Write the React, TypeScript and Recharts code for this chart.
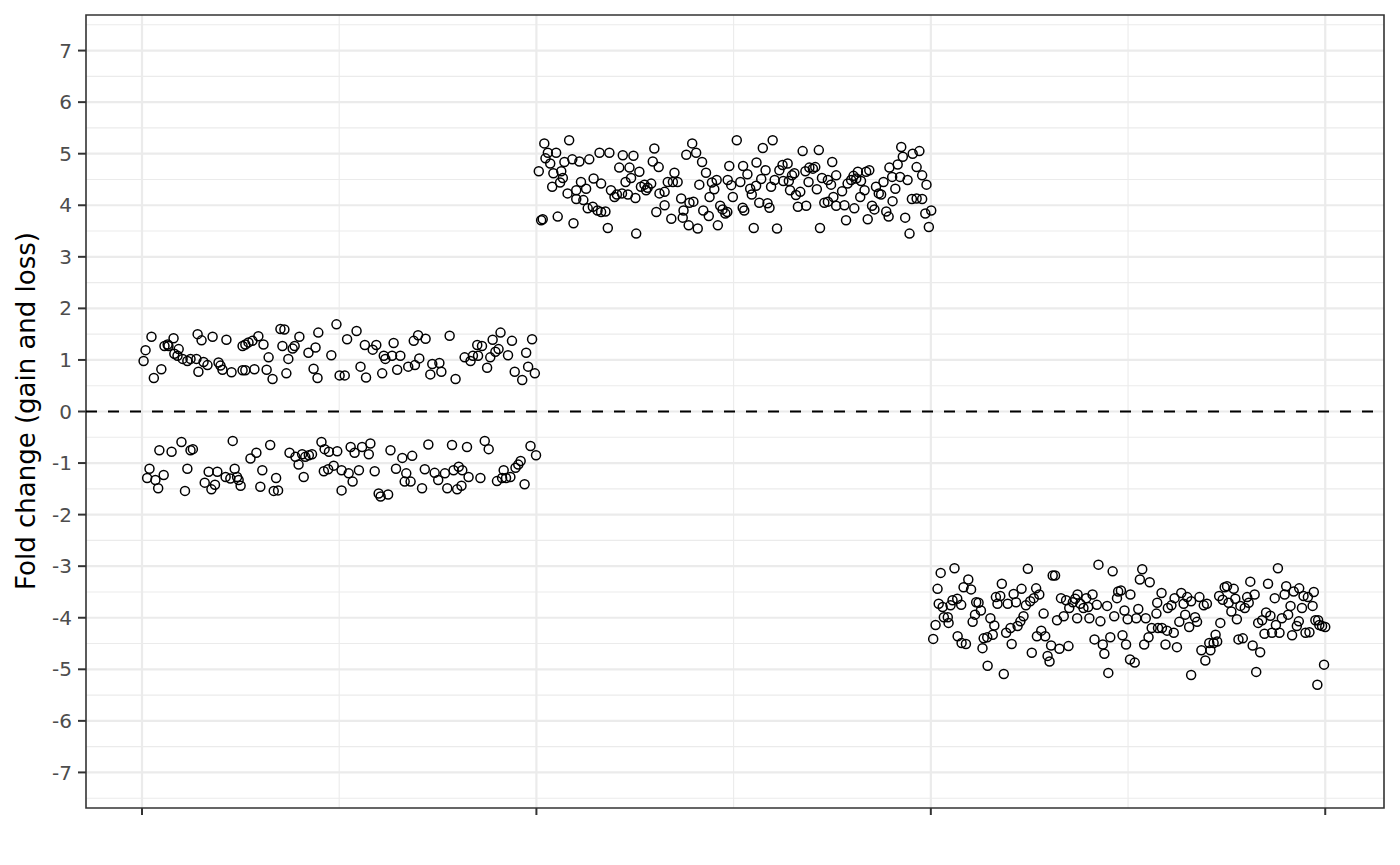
import { ScatterChart, Scatter, XAxis, YAxis, CartesianGrid, ReferenceLine, ReferenceArea } from 'recharts'

// [index, fold change]
const gainA: [number, number][] = [
  [0.9, 1.19], [0.4, 0.98], [2.4, 1.45], [3.0, 0.65], [4.9, 0.82], [5.7, 1.27], [6.5, 1.3], [6.7, 1.27],
  [8.0, 1.42], [8.2, 1.12], [9.3, 1.21], [9.0, 1.08], [10.3, 1.02], [11.5, 0.98], [12.3, 1.02], [13.8, 1.02],
  [14.1, 1.5], [15.1, 1.38], [14.3, 0.77], [15.6, 0.96], [16.6, 0.9], [17.9, 1.45], [19.4, 0.95], [19.9, 0.89],
  [20.4, 0.81], [21.4, 1.39], [22.7, 0.76], [25.5, 1.27], [26.2, 1.3], [27.0, 1.34], [28.0, 1.37], [29.5, 1.46],
  [30.8, 1.3], [25.5, 0.8], [26.2, 0.8], [28.5, 0.82], [31.6, 0.81], [32.1, 1.05], [33.1, 0.63], [35.1, 1.6],
  [36.1, 1.59], [35.6, 1.27], [36.6, 0.74], [37.1, 1.02], [38.2, 1.22], [38.7, 1.27], [39.9, 1.45], [42.2, 1.14],
  [44.0, 1.24], [43.5, 0.83], [44.5, 0.65], [44.7, 1.53], [48.0, 1.09], [49.3, 1.69], [50.1, 0.7], [52.0, 1.4],
  [54.4, 1.56], [51.4, 0.7], [55.4, 0.87], [56.8, 0.66], [56.5, 1.29], [58.5, 1.2], [59.4, 1.29], [61.3, 1.08],
  [61.7, 1.02], [63.4, 1.08], [63.8, 1.33], [65.5, 1.08], [60.9, 0.74], [64.7, 0.81], [67.5, 0.87], [69.2, 0.9],
  [68.9, 1.37], [70.0, 1.48], [71.9, 1.41], [70.3, 1.03], [73.6, 0.92], [73.1, 0.72], [75.4, 0.94], [75.9, 0.77],
  [78.0, 1.47], [79.5, 0.63], [81.8, 1.05], [83.3, 0.98], [83.9, 1.08], [85.0, 1.29], [85.2, 1.08], [86.2, 1.27],
  [87.5, 0.85], [88.3, 1.05], [88.9, 1.39], [89.6, 1.16], [90.4, 1.21], [90.9, 1.53], [92.8, 1.09], [93.8, 1.37],
  [94.5, 0.77], [97.4, 1.14], [96.4, 0.61], [97.9, 0.87], [98.9, 1.4], [99.6, 0.74],
]

const lossA: [number, number][] = [
  [1.9, -1.11], [1.3, -1.29], [3.4, -1.33], [4.1, -1.49], [5.5, -1.23], [4.4, -0.75], [7.5, -0.78], [10.0, -0.59],
  [12.3, -0.75], [12.9, -0.73], [11.5, -1.11], [10.9, -1.54], [15.9, -1.38], [16.9, -1.17], [17.6, -1.51], [18.5, -1.42],
  [19.1, -1.17], [21.2, -1.27], [22.4, -1.3], [23.5, -1.11], [24.1, -1.27], [24.5, -1.33], [25.0, -1.44], [23.0, -0.57],
  [27.5, -0.91], [29.0, -0.8], [32.5, -0.65], [30.5, -1.14], [30.0, -1.46], [34.0, -1.29], [33.4, -1.54], [34.5, -1.53],
  [37.4, -0.8], [38.9, -0.88], [39.7, -1.03], [40.6, -0.83], [41.4, -0.88], [42.3, -0.85], [43.1, -0.83], [41.0, -1.27],
  [45.5, -0.59], [46.3, -0.73], [47.4, -0.78], [49.5, -0.77], [46.1, -1.16], [47.2, -1.12], [48.6, -1.05], [50.6, -1.53],
  [52.9, -0.69], [53.9, -0.8], [55.8, -0.69], [57.5, -0.83], [57.9, -0.62], [50.6, -1.14], [52.4, -1.2], [53.4, -1.36],
  [55.0, -1.14], [59.0, -1.16], [60.0, -1.59], [60.5, -1.65], [62.4, -1.61], [63.0, -0.75], [66.0, -0.9], [68.5, -0.86],
  [64.4, -1.11], [67.0, -1.2], [66.6, -1.36], [68.1, -1.36], [71.0, -1.49], [71.7, -1.12], [72.6, -0.64], [74.2, -1.19],
  [75.1, -1.33], [76.8, -1.2], [77.4, -1.49], [78.6, -0.65], [79.0, -1.14], [80.3, -1.07], [81.2, -1.14], [79.9, -1.51],
  [81.0, -1.44], [82.8, -1.27], [82.4, -0.69], [85.8, -1.29], [86.9, -0.57], [87.9, -0.73], [90.0, -1.35], [91.7, -1.14],
  [91.3, -1.29], [92.3, -1.29], [93.4, -1.27], [94.7, -1.09], [95.4, -1.03], [96.0, -0.96], [97.0, -1.41], [98.5, -0.67],
  [99.9, -0.85],
]

const gainB: [number, number][] = [
  [102.0, 5.2], [108.3, 5.26], [102.9, 5.02], [105.0, 5.02], [102.3, 4.91], [103.5, 4.81], [100.6, 4.66], [104.3, 4.62],
  [106.3, 4.66], [106.7, 4.53], [107.1, 4.84], [109.1, 4.89], [110.9, 4.85], [113.4, 4.89], [116.0, 5.02], [118.5, 5.02],
  [104.0, 4.36], [106.0, 4.44], [107.9, 4.23], [110.1, 4.29], [111.3, 4.45], [112.6, 4.32], [110.1, 4.12], [111.9, 4.1],
  [113.0, 3.94], [114.3, 3.97], [115.5, 3.9], [116.4, 3.87], [117.5, 3.88], [114.5, 4.52], [116.4, 4.42], [118.9, 4.29],
  [119.8, 4.16], [120.4, 4.21], [121.7, 4.23], [123.2, 4.21], [125.1, 4.14], [118.1, 3.56], [125.3, 3.45], [101.2, 3.71],
  [101.6, 3.73], [105.4, 3.78], [109.4, 3.65], [121.0, 4.73], [121.9, 4.97], [124.6, 4.96], [123.6, 4.73], [126.1, 4.65],
  [122.6, 4.45], [124.0, 4.53], [126.5, 4.36], [127.4, 4.4], [128.2, 4.34], [129.1, 4.42], [127.8, 4.29], [129.9, 5.1],
  [129.5, 4.85], [131.0, 4.74], [131.2, 4.23], [132.5, 4.26], [133.3, 4.45], [134.6, 4.45], [135.0, 4.63], [135.8, 4.45],
  [132.5, 4.0], [130.4, 3.87], [134.2, 3.74], [136.7, 4.13], [137.3, 3.9], [138.0, 4.98], [139.5, 5.2], [140.5, 5.02],
  [142.0, 4.84], [143.0, 4.63], [141.3, 4.4], [144.5, 4.44], [145.1, 4.31], [145.7, 4.49], [138.8, 4.05], [139.8, 4.07],
  [143.9, 4.16], [137.1, 3.76], [138.6, 3.61], [140.9, 3.55], [142.3, 3.9], [143.7, 3.79], [146.0, 3.61], [146.6, 3.99],
  [147.2, 3.92], [147.9, 3.84], [148.5, 4.49], [149.4, 4.39], [148.9, 4.76], [149.8, 4.16], [150.8, 5.26], [157.4, 5.11],
  [159.9, 5.26], [167.5, 5.05], [171.6, 5.07], [152.4, 4.76], [153.5, 4.6], [155.8, 4.83], [158.1, 4.68], [157.0, 4.51],
  [151.7, 4.45], [154.2, 4.32], [155.7, 4.38], [154.6, 4.21], [159.5, 4.36], [160.4, 4.49], [161.6, 4.68], [162.4, 4.78],
  [163.7, 4.81], [162.6, 4.47], [164.0, 4.47], [164.8, 4.58], [165.4, 4.62], [164.3, 4.29], [165.8, 4.2], [166.9, 4.26],
  [166.3, 3.97], [168.4, 3.99], [168.2, 4.66], [169.2, 4.73], [170.1, 4.71], [170.7, 4.74], [169.0, 4.45], [171.1, 4.31],
  [172.4, 4.53], [173.9, 4.49], [174.7, 4.4], [176.0, 4.58], [175.0, 4.84], [173.0, 4.05], [173.9, 4.07], [175.3, 4.16],
  [176.0, 3.99], [177.5, 4.27], [178.1, 4.0], [178.9, 4.42], [179.8, 4.49], [180.4, 4.57], [181.1, 4.52], [181.5, 4.65],
  [182.3, 4.47], [182.1, 4.16], [183.2, 4.29], [183.6, 4.65], [184.4, 4.68], [180.6, 3.94], [178.5, 3.71], [184.0, 3.73],
  [185.1, 3.99], [185.7, 3.92], [186.1, 4.36], [186.8, 4.23], [187.4, 4.21], [188.0, 4.45], [188.7, 3.88], [189.3, 3.78],
  [190.3, 4.08], [191.0, 4.32], [189.5, 4.73], [190.2, 4.55], [191.6, 4.79], [192.2, 4.55], [192.9, 4.94], [192.5, 5.13],
  [194.1, 4.49], [195.4, 5.0], [197.1, 5.05], [196.4, 4.74], [197.8, 4.58], [198.9, 4.4], [195.2, 4.12], [196.4, 4.13],
  [197.8, 4.12], [193.5, 3.76], [194.6, 3.45], [198.6, 3.84], [200.1, 3.9], [199.5, 3.58], [155.1, 3.56], [161.0, 3.55],
  [171.9, 3.56], [152.3, 3.95], [152.7, 3.9], [156.5, 4.05], [158.6, 4.04], [159.1, 3.95], [148.4, 3.87],
]

const lossC: [number, number][] = [
  [200.6, -4.41], [201.2, -4.14], [201.7, -3.44], [202.5, -3.13], [202.0, -3.73], [203.3, -3.99], [203.0, -3.79], [204.3, -3.99],
  [204.5, -4.1], [205.0, -3.76], [206.0, -3.04], [205.5, -3.66], [206.7, -3.63], [207.7, -3.75], [206.8, -4.36], [207.8, -4.49],
  [208.9, -4.51], [208.3, -3.41], [209.5, -3.26], [210.2, -3.45], [210.6, -4.08], [211.2, -3.94], [211.5, -3.7], [212.1, -3.71],
  [212.7, -3.86], [213.1, -4.59], [213.4, -4.4], [214.3, -4.38], [215.1, -4.01], [214.4, -4.93], [215.7, -4.33], [216.1, -4.15],
  [216.5, -3.6], [216.9, -3.73], [218.0, -3.34], [217.6, -3.58], [218.5, -5.09], [219.1, -4.29], [219.5, -3.73], [220.2, -4.2],
  [220.5, -4.51], [221.0, -3.54], [221.6, -3.7], [222.0, -4.16], [222.7, -4.07], [223.0, -3.44], [223.5, -3.97], [224.1, -3.76],
  [224.6, -3.05], [225.2, -3.68], [225.6, -4.68], [226.1, -3.62], [226.7, -3.43], [227.5, -3.55], [226.9, -4.36], [228.0, -4.25],
  [228.6, -3.92], [229.0, -4.36], [229.6, -4.74], [230.1, -4.85], [230.5, -4.54], [230.9, -3.18], [231.5, -3.18], [232.0, -4.05],
  [232.6, -4.6], [233.0, -3.62], [233.7, -3.97], [234.3, -3.66], [234.9, -4.55], [235.1, -3.81], [236.0, -3.7], [236.6, -3.63],
  [237.2, -3.55], [237.1, -4.01], [237.9, -3.73], [238.7, -3.81], [239.4, -3.62], [239.9, -3.79], [240.2, -4.01], [241.0, -3.55],
  [241.5, -4.42], [242.1, -3.75], [242.5, -2.97], [243.0, -4.07], [243.6, -4.52], [244.0, -4.7], [244.7, -3.77], [245.0, -5.07],
  [245.5, -4.38], [246.1, -3.1], [246.5, -3.97], [247.2, -3.62], [247.5, -3.49], [248.2, -3.47], [248.6, -4.34], [249.1, -3.86],
  [249.5, -4.52], [249.9, -4.03], [250.5, -4.81], [250.6, -3.55], [251.7, -4.87], [252.6, -3.83], [252.1, -4.01], [253.6, -3.06],
  [253.0, -3.26], [255.5, -3.31], [254.5, -4.01], [254.1, -4.52], [255.2, -4.38], [256.0, -4.2], [257.2, -3.92], [257.4, -3.71],
  [258.5, -3.52], [257.6, -4.2], [258.6, -4.2], [259.5, -4.52], [260.1, -3.81], [259.9, -4.25], [261.0, -3.76], [261.6, -4.29],
  [261.8, -3.62], [262.4, -4.57], [263.0, -4.08], [263.5, -3.52], [264.1, -3.73], [264.5, -3.94], [265.0, -3.6], [265.5, -4.18],
  [266.0, -5.11], [266.0, -3.68], [267.0, -3.99], [267.5, -4.08], [268.1, -3.6], [268.6, -4.63], [269.2, -3.76], [269.6, -4.83],
  [270.0, -3.73], [270.6, -4.49], [270.9, -4.63], [271.7, -4.49], [272.2, -4.33], [272.6, -4.46], [273.4, -4.1], [273.1, -3.58],
  [274.0, -3.65], [274.5, -3.41], [275.1, -3.39], [275.5, -3.71], [276.2, -3.88], [276.8, -3.44], [277.2, -3.63], [277.6, -4.03],
  [278.0, -4.42], [279.1, -4.4], [278.5, -3.77], [279.6, -3.81], [280.2, -3.6], [281.0, -3.3], [280.6, -3.71], [282.1, -3.55],
  [281.6, -4.54], [283.5, -4.67], [282.5, -5.05], [283.0, -4.1], [284.0, -4.05], [284.6, -4.31], [285.0, -3.9], [285.5, -3.34],
  [286.1, -3.96], [286.5, -4.29], [287.2, -3.62], [287.5, -4.14], [288.0, -3.04], [288.4, -4.29], [289.0, -4.01], [289.7, -3.55],
  [290.1, -3.39], [290.6, -3.94], [291.2, -3.77], [291.6, -4.34], [292.0, -3.49], [292.8, -4.16], [293.3, -4.07], [293.4, -3.43],
  [294.1, -3.81], [294.5, -3.58], [295.0, -4.29], [295.6, -3.6], [296.0, -4.28], [296.8, -3.77], [297.1, -3.5], [297.5, -4.05],
  [298.2, -4.05], [298.5, -4.14], [299.2, -4.16], [300.0, -4.18], [298.0, -5.3], [299.7, -4.91],
]

const xTicks = [0, 100, 200, 300]
const xMinor = [50, 150, 250]
const yTicks = [-7, -6, -5, -4, -3, -2, -1, 0, 1, 2, 3, 4, 5, 6, 7]
const yMinor = [-7.5, -6.5, -5.5, -4.5, -3.5, -2.5, -1.5, -0.5, 0.5, 1.5, 2.5, 3.5, 4.5, 5.5, 6.5, 7.5]

const X_DOMAIN: [number, number] = [-14.2, 314.9]
const Y_DOMAIN: [number, number] = [-7.69, 7.69]
const FONT = '"DejaVu Sans", sans-serif'

const toPoints = (arr: [number, number][]) => arr.map(([x, y]) => ({ x, y }))

const Ring = (p: any) => (
  <circle cx={p.cx} cy={p.cy} r={4.5} fill="none" stroke="#000" strokeWidth={1.5} />
)

const YTitle = () => (
  <text
    x={26}
    y={411}
    transform="rotate(-90 26 411)"
    textAnchor="middle"
    dominantBaseline="central"
    fontSize={26}
    fontFamily={FONT}
    fill="#000"
  >
    Fold change (gain and loss)
  </text>
)

export default function App() {
  const series = [gainA, lossA, gainB, lossC]
  return (
    <div style={{ position: 'absolute', left: 0, top: 0, width: 1400, height: 865, background: '#fff' }}>
      <ScatterChart width={1400} height={865} margin={{ top: 15, right: 16, bottom: 0, left: 0 }}>
        <CartesianGrid
          stroke="#EBEBEB"
          strokeWidth={1.1}
          horizontalValues={yMinor}
          verticalValues={xMinor}
        />
        <CartesianGrid
          stroke="#EBEBEB"
          strokeWidth={2.2}
          horizontalValues={yTicks}
          verticalValues={xTicks}
        />
        <XAxis
          type="number"
          dataKey="x"
          domain={X_DOMAIN}
          ticks={xTicks}
          allowDataOverflow
          height={57}
          tickSize={7}
          axisLine={false}
          tickLine={{ stroke: '#333333', strokeWidth: 2 }}
          tickFormatter={() => ''}
        />
        <YAxis
          type="number"
          dataKey="y"
          domain={Y_DOMAIN}
          ticks={yTicks}
          allowDataOverflow
          width={86}
          tickSize={8}
          tickMargin={6}
          axisLine={false}
          tickLine={{ stroke: '#333333', strokeWidth: 2 }}
          tick={{ fill: '#4D4D4D', fontSize: 20, fontFamily: FONT }}
          label={<YTitle />}
        />
        <ReferenceLine y={0} stroke="#000" strokeWidth={2.2} strokeDasharray="11 11" />
        {series.map((s, i) => (
          <Scatter key={i} data={toPoints(s)} shape={Ring} isAnimationActive={false} />
        ))}
        <ReferenceArea
          x1={X_DOMAIN[0]}
          x2={X_DOMAIN[1]}
          y1={Y_DOMAIN[0]}
          y2={Y_DOMAIN[1]}
          fill="none"
          stroke="#333333"
          strokeWidth={1.6}
          ifOverflow="visible"
        />
      </ScatterChart>
    </div>
  )
}
